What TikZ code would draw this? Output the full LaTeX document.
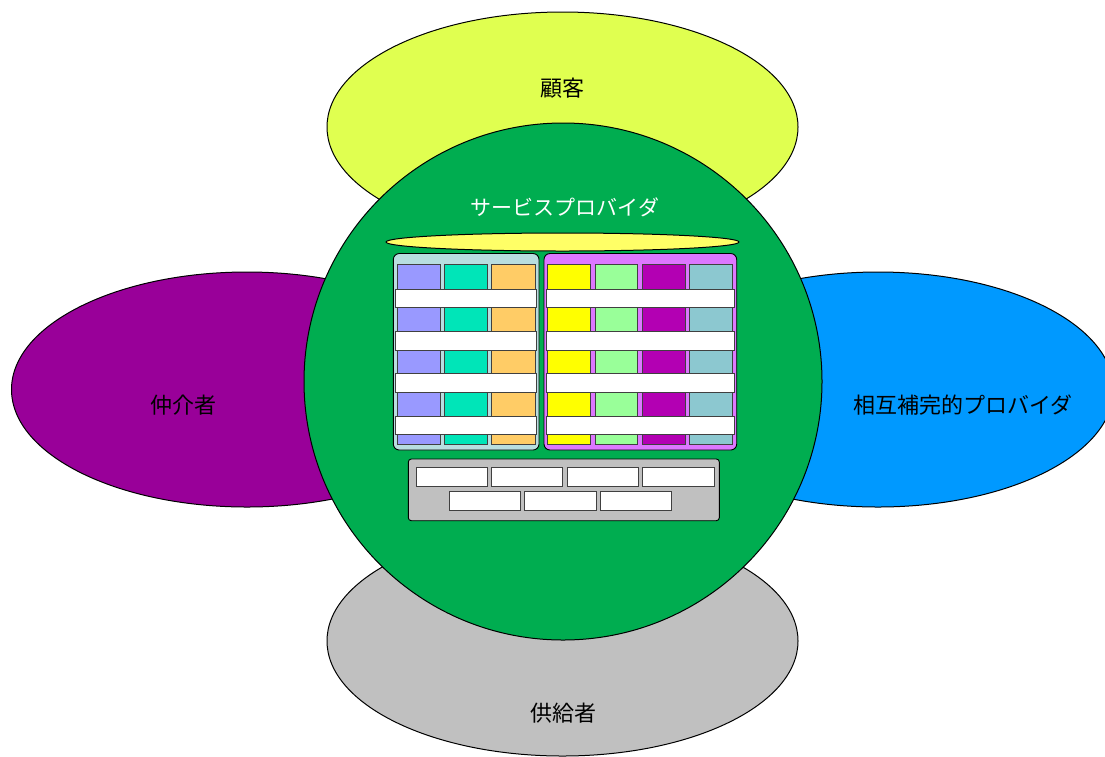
\documentclass[tikz,border=0pt]{standalone}
\usepackage{fontspec}
\newfontfamily\jp{Noto Sans CJK JP}
\usetikzlibrary{shapes.geometric}
\definecolor{custY}{RGB}{224,255,80}
\definecolor{brokP}{RGB}{153,0,153}
\definecolor{compB}{RGB}{0,153,255}
\definecolor{suppG}{RGB}{192,192,192}
\definecolor{provG}{RGB}{0,173,80}
\definecolor{discY}{RGB}{255,255,102}
\definecolor{panL}{RGB}{184,222,224}
\definecolor{panR}{RGB}{221,119,255}
\definecolor{cA}{RGB}{153,153,255}
\definecolor{cB}{RGB}{0,229,184}
\definecolor{cC}{RGB}{255,204,102}
\definecolor{cD}{RGB}{255,255,0}
\definecolor{cE}{RGB}{153,255,153}
\definecolor{cF}{RGB}{179,0,179}
\definecolor{cG}{RGB}{140,200,208}
\tikzset{
  oval/.style={ellipse, draw=black, line width=1pt, inner sep=0pt},
  lbl/.style={font=\jp\fontsize{22}{26}\selectfont, text=black, inner sep=0pt},
  colbox/.style={draw=black!75, line width=0.8pt},
  bar/.style={draw=black!75, fill=white, line width=0.8pt},
  panel/.style={draw=black, line width=0.9pt, rounded corners=6pt},
}
\begin{document}
\begin{tikzpicture}[x=1pt,y=-1pt]
\clip (0,0) rectangle (1105,756);
\fill[white] (0,0) rectangle (1105,756);
% outer ellipses
\node[oval, fill=custY, minimum width=471pt, minimum height=230pt] (cust) at (562.5,127) {};
\node[oval, fill=brokP, minimum width=471pt, minimum height=235pt] (brok) at (247,389.5) {};
\node[oval, fill=compB, minimum width=471pt, minimum height=235pt] (comp) at (878,389.5) {};
\node[oval, fill=suppG, minimum width=471pt, minimum height=230pt] (supp) at (562.5,641) {};
\node[lbl] (custL) at (562.5,88) {顧客};
\node[lbl] (brokL) at (183,405) {仲介者};
\node[lbl] (compL) at (963,405) {相互補完的プロバイダ};
\node[lbl] (suppL) at (563,713) {供給者};
% central circle
\node[oval, fill=provG, minimum width=518pt, minimum height=517pt] (prov) at (563,381.5) {};
\node[lbl, text=white, font=\jp\fontsize{21}{25}\selectfont] (provL) at (565,207) {サービスプロバイダ};
\node[oval, fill=discY, minimum width=353pt, minimum height=18pt] (disc) at (562.5,242) {};
% panels
\draw[panel, fill=panL] (393.3,253.5) rectangle (539,450);
\draw[panel, fill=panR] (544,253.5) rectangle (736.7,450);
% left columns
\foreach \a/\b/\c in {397.3/440.7/cA, 444.3/487.7/cB, 491.7/535/cC}
  \draw[colbox, fill=\c] (\a,264) rectangle (\b,444);
% right columns
\foreach \a/\b/\c in {547.7/590.7/cD, 595/637.7/cE, 642/685.7/cF, 689.3/732.7/cG}
  \draw[colbox, fill=\c] (\a,264) rectangle (\b,444);
% bars
\foreach \t/\u in {289.3/307.7, 331.3/350, 373.7/392.3, 416/434.3}{
  \draw[bar] (395.3,\t) rectangle (536.7,\u);
  \draw[bar] (546.3,\t) rectangle (734.3,\u);
}
% bottom panel
\draw[draw=black, line width=0.9pt, rounded corners=3pt, fill=suppG] (408.3,459) rectangle (719.3,520.7);
\foreach \a/\b in {416/487.7, 491.7/562.7, 567/638.3, 642.3/714}
  \draw[bar] (\a,467.7) rectangle (\b,486.7);
\foreach \a/\b in {449.3/520.7, 524.7/596, 600/671}
  \draw[bar] (\a,491) rectangle (\b,510.3);
\end{tikzpicture}
\end{document}
